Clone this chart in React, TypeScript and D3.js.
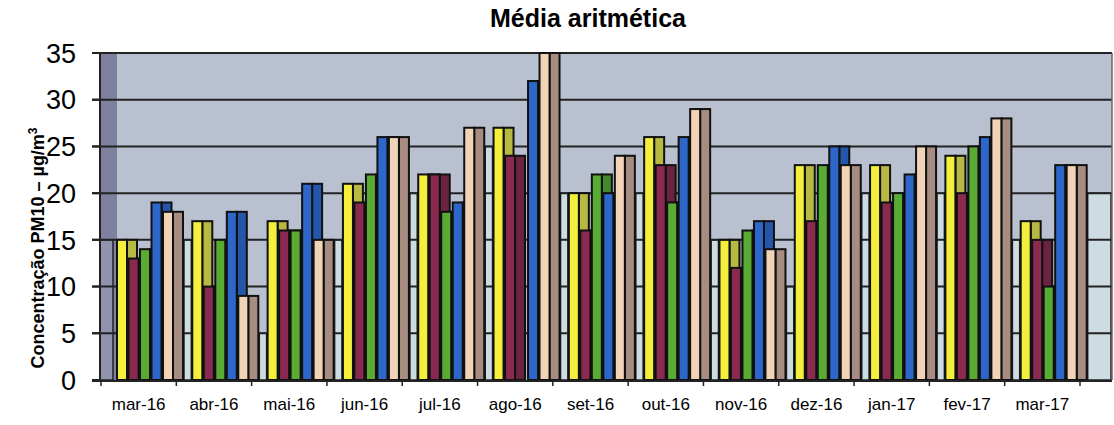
import React from "react";
import { scaleBand, scaleLinear } from "d3";

const months = ["mar-16", "abr-16", "mai-16", "jun-16", "jul-16", "ago-16", "set-16", "out-16", "nov-16", "dez-16", "jan-17", "fev-17", "mar-17"];
const yellow = [15, 17, 17, 21, 22, 27, 20, 26, 15, 23, 23, 24, 17];
const maroon = [13, 10, 16, 19, 22, 24, 16, 23, 12, 17, 19, 20, 15];
const green = [14, 15, 16, 22, 18, null, 22, 19, 16, 23, 20, 25, 10];
const blue = [19, 18, 21, 26, 19, 32, 20, 26, 17, 25, 22, 26, 23];
const beige = [18, 9, 15, 26, 27, 35, 24, 29, 14, 23, 25, 28, 23];
const yTicks = [0, 5, 10, 15, 20, 25, 30, 35];

const series = [
  { key: "a", values: yellow, front: "#f3ef3c", side: "#b8b942" },
  { key: "b", values: maroon, front: "#8a2a50", side: "#6a2440" },
  { key: "c", values: green, front: "#5aab34", side: "#43882c" },
  { key: "d", values: blue, front: "#2c67c9", side: "#2457aa" },
  { key: "e", values: beige, front: "#f1d4b7", side: "#a78c81" },
];

const W = 1114;
const H = 425;
const left = 100;
const right = 1112;
const depth = 16; // 3d offset of the bars from the band start
const barW = 10;
const sideW = 10;
const font = "'Liberation Sans', Arial, sans-serif";

const App = () => {
  const x = scaleBand<string>().domain(months).range([101, 1080]);
  const y = scaleLinear().domain([0, 35]).range([380, 53]);
  const sub = scaleBand<string>().domain(series.map(s => s.key)).range([0, 57.5]);

  // light patches between the groups (back wall seen through the gaps)
  const gaps = months.map((m, i) => {
    const x0 = (x(m) as number) + depth + (sub("e") as number) + barW + sideW;
    const x1 = i < months.length - 1 ? (x(months[i + 1]) as number) + depth : right;
    const next = i < months.length - 1 ? yellow[i + 1] : beige[i];
    const top = Math.floor(Math.min(beige[i], next) / 5) * 5;
    return { x0, x1, top };
  });
  const wallTop = Math.floor(yellow[0] / 5) * 5;

  return (
    <svg width={W} height={H} style={{ position: "fixed", left: 0, top: 0, background: "#fff" }}>
      <text x={588} y={27} textAnchor="middle" fontFamily={font} fontWeight="bold" fontSize={25}>Média aritmética</text>

      <rect x={left} y={y(35)} width={right - left} height={y(0) - y(35)} fill="#b9c0cf"/>
      <rect x={left} y={y(35)} width={depth + 1} height={y(0) - y(35)} fill="#7d819f"/>
      <rect x={left} y={y(wallTop)} width={depth - 3} height={y(0) - y(wallTop)} fill="#8f94ac" stroke="#222" strokeWidth={1.5}/>

      {gaps.map((g, i) => (
        <rect key={i} x={g.x0 + 1} y={y(g.top)} width={Math.max(0, g.x1 - g.x0 - 2)} height={y(0) - y(g.top)}
          fill="#cddbe2" stroke="#222" strokeWidth={1.5}/>
      ))}

      {yTicks.filter(t => t > 0).map(t => (
        <line key={t} x1={left - 8} x2={right} y1={y(t)} y2={y(t)} stroke="#222" strokeWidth={2}/>
      ))}

      {months.map((m, i) => (
        <g key={m}>
          {series.map(s => {
            const v = s.values[i];
            if (v == null) return null;
            const bx = (x(m) as number) + depth + (sub(s.key) as number);
            return (
              <g key={s.key}>
                <rect x={bx + barW} y={y(v)} width={sideW} height={y(0) - y(v)} fill={s.side} stroke="#111" strokeWidth={2}/>
                <rect x={bx} y={y(v)} width={barW} height={y(0) - y(v)} fill={s.front} stroke="#111" strokeWidth={2}/>
              </g>
            );
          })}
        </g>
      ))}

      <line x1={right} x2={right} y1={y(35)} y2={y(0)} stroke="#666" strokeWidth={1.5}/>
      <line x1={left} x2={left} y1={y(35)} y2={y(0) + 1} stroke="#222" strokeWidth={2}/>
      <line x1={left - 8} x2={right} y1={y(0) + 1} y2={y(0) + 1} stroke="#222" strokeWidth={2}/>

      {yTicks.map(t => (
        <g key={t}>
          <line x1={left - 8} x2={left} y1={y(t)} y2={y(t)} stroke="#222" strokeWidth={2}/>
          <text x={76} y={y(t)} dy="0.36em" textAnchor="end" fontFamily={font} fontSize={27}>{t}</text>
        </g>
      ))}

      {months.map(m => (
        <g key={m}>
          <line x1={x(m) as number} x2={x(m) as number} y1={y(0)} y2={y(0) + 6} stroke="#222" strokeWidth={1.5}/>
          <text x={(x(m) as number) + x.bandwidth() / 2} y={410} textAnchor="middle" fontFamily={font} fontSize={17}>{m}</text>
        </g>
      ))}
      <line x1={1080} x2={1080} y1={y(0)} y2={y(0) + 6} stroke="#222" strokeWidth={1.5}/>

      <text transform={`translate(44, 248) rotate(-90)`} textAnchor="middle" fontFamily={font} fontWeight="bold" fontSize={18}>
        Concentração PM10 – µg/m<tspan dy={-7} fontSize={12}>3</tspan>
      </text>
    </svg>
  );
};

export default App;
